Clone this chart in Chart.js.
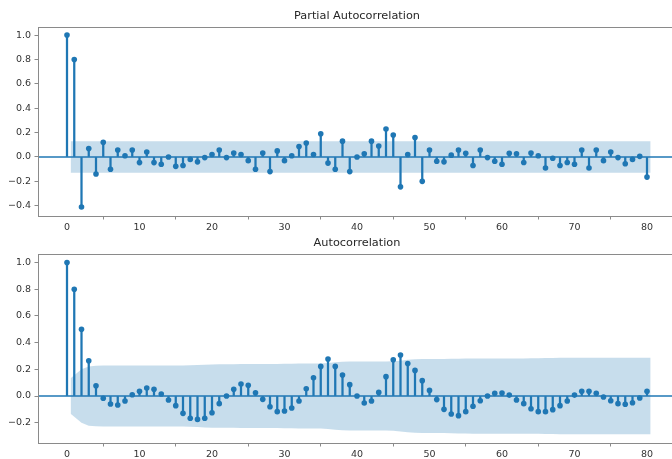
<!DOCTYPE html>
<html>
<head>
<meta charset="utf-8">
<script src="https://cdn.jsdelivr.net/npm/chart.js@4/dist/chart.umd.min.js"></script>
<style>
  html, body { margin: 0; padding: 0; background: #ffffff; overflow: hidden; width: 672px; height: 459px; }
  canvas { position: absolute; left: 0; }
  #pacfCanvas { top: 0; }
  #acfCanvas { top: 227px; }
</style>
</head>
<body>
<canvas id="pacfCanvas" width="700" height="236"></canvas>
<canvas id="acfCanvas" width="700" height="236"></canvas>
<script>
// Partial autocorrelation, lags 0..80
const pacfValues = [
  1.0, 0.80, -0.41, 0.07, -0.14, 0.12, -0.10, 0.057, 0.01, 0.057,
  -0.046, 0.04, -0.046, -0.06, 0.0, -0.077, -0.07, -0.02, -0.04, -0.005,
  0.02, 0.057, -0.005, 0.033, 0.02, -0.03, -0.10, 0.033, -0.12, 0.05,
  -0.03, 0.01, 0.085, 0.115, 0.02, 0.19, -0.05, -0.10, 0.13, -0.12,
  0.0, 0.027, 0.13, 0.09, 0.23, 0.18, -0.245, 0.02, 0.16, -0.20,
  0.057, -0.035, -0.04, 0.015, 0.057, 0.03, -0.07, 0.057, -0.005, -0.035,
  -0.06, 0.03, 0.027, -0.045, 0.033, 0.01, -0.09, -0.01, -0.07, -0.045,
  -0.06, 0.057, -0.09, 0.057, -0.03, 0.04, -0.005, -0.055, -0.02, 0.005,
  -0.165
];
// 95% band half-width for the PACF (same at every lag 1..80)
const pacfBand = 0.13;

// Autocorrelation, lags 0..80
const acfValues = [
  1.0, 0.80, 0.50, 0.264, 0.077, -0.017, -0.06, -0.067, -0.037, 0.01,
  0.035, 0.06, 0.05, 0.015, -0.03, -0.072, -0.13, -0.167, -0.175, -0.167,
  -0.125, -0.057, 0.0, 0.05, 0.09, 0.08, 0.025, -0.025, -0.08, -0.117,
  -0.112, -0.09, -0.037, 0.055, 0.137, 0.222, 0.277, 0.222, 0.157, 0.085,
  0.0, -0.052, -0.037, 0.027, 0.145, 0.272, 0.307, 0.244, 0.192, 0.115,
  0.042, -0.027, -0.10, -0.135, -0.147, -0.117, -0.077, -0.035, 0.0, 0.02,
  0.022, 0.007, -0.03, -0.057, -0.095, -0.117, -0.117, -0.102, -0.072, -0.037,
  0.007, 0.035, 0.035, 0.02, -0.007, -0.035, -0.057, -0.062, -0.05, -0.015,
  0.035
];
// 95% band half-width for the ACF, lags 1..80 (Bartlett)
const acfBand = [
  0.133, 0.201, 0.222, 0.227, 0.228, 0.228, 0.228, 0.228, 0.228, 0.228,
  0.228, 0.229, 0.229, 0.229, 0.229, 0.229, 0.231, 0.233, 0.235, 0.237,
  0.238, 0.238, 0.238, 0.239, 0.239, 0.240, 0.240, 0.240, 0.240, 0.241,
  0.242, 0.243, 0.243, 0.243, 0.244, 0.248, 0.253, 0.256, 0.258, 0.258,
  0.258, 0.259, 0.259, 0.259, 0.260, 0.265, 0.271, 0.275, 0.277, 0.278,
  0.278, 0.278, 0.279, 0.280, 0.281, 0.282, 0.282, 0.282, 0.282, 0.282,
  0.282, 0.282, 0.282, 0.283, 0.283, 0.284, 0.285, 0.286, 0.286, 0.286,
  0.286, 0.286, 0.286, 0.286, 0.287, 0.287, 0.287, 0.287, 0.287, 0.287
];

const xTicks = [0, 10, 20, 30, 40, 50, 60, 70, 80];
const pacfYTicks = [-0.4, -0.2, 0.0, 0.2, 0.4, 0.6, 0.8, 1.0];
const acfYTicks = [-0.2, 0.0, 0.2, 0.4, 0.6, 0.8, 1.0];

const BLUE = '#1f77b4';
const BAND = 'rgba(31,119,180,0.25)';
const AXIS = '#8a8a8a';
const TEXT = '#333333';
const FONT = '"DejaVu Sans", Verdana, sans-serif';

function fmtY(v) {
  const s = Math.abs(v).toFixed(1);
  return v < -1e-9 ? '\u2212' + s : s;
}

// Frame around the axes and the panel title
const framePlugin = {
  id: 'frame',
  afterDatasetsDraw(chart, args, opts) {
    const a = chart.chartArea;
    const ctx = chart.ctx;
    ctx.save();
    ctx.strokeStyle = AXIS;
    ctx.lineWidth = 1;
    ctx.strokeRect(Math.round(a.left) + 0.5, Math.round(a.top) + 0.5,
                   Math.round(a.right - a.left), Math.round(a.bottom - a.top));
    ctx.restore();
  },
  afterDraw(chart, args, opts) {
    const a = chart.chartArea;
    const ctx = chart.ctx;
    ctx.save();
    ctx.fillStyle = '#262626';
    ctx.font = '11.3px ' + FONT;
    ctx.textAlign = 'center';
    ctx.textBaseline = 'middle';
    ctx.fillText(opts.text, (a.left + a.right) / 2, 16);
    ctx.restore();
  }
};

function makeChart(canvasId, title, values, bandUpper, bandLower, yMin, yMax, yTicks) {
  const stems = values.map((v, i) => ({ x: i, y: [0, v] }));
  const points = values.map((v, i) => ({ x: i, y: v }));
  return new Chart(document.getElementById(canvasId), {
    type: 'scatter',
    data: {
      datasets: [
        {
          type: 'line', data: bandUpper, borderWidth: 0, pointRadius: 0,
          borderColor: 'rgba(0,0,0,0)', fill: false, order: 5
        },
        {
          type: 'line', data: bandLower, borderWidth: 0, pointRadius: 0,
          borderColor: 'rgba(0,0,0,0)', backgroundColor: BAND, fill: '-1', order: 4
        },
        {
          type: 'line', data: [{ x: -4, y: 0 }, { x: 84, y: 0 }],
          borderColor: BLUE, borderWidth: 1.5, pointRadius: 0, fill: false, order: 3
        },
        {
          type: 'bar', data: stems, backgroundColor: BLUE, borderWidth: 0,
          barThickness: 1.6, grouped: false, order: 2
        },
        {
          type: 'scatter', data: points, backgroundColor: BLUE, borderWidth: 0,
          pointRadius: 2.8, order: 1
        }
      ]
    },
    options: {
      responsive: false,
      animation: false,
      events: [],
      devicePixelRatio: 1,
      layout: { padding: { top: 27, right: 24, left: 0, bottom: 0 } },
      plugins: {
        legend: { display: false },
        tooltip: { enabled: false },
        title: { display: false },
        frame: { text: title }
      },
      scales: {
        x: {
          type: 'linear', min: -4, max: 84, offset: false,
          afterBuildTicks: s => { s.ticks = xTicks.map(v => ({ value: v })); },
          afterFit: s => { s.height = 20; },
          grid: { display: true, drawOnChartArea: false, drawTicks: true, tickLength: 3.5, tickColor: AXIS, tickWidth: 1 },
          border: { display: false },
          ticks: { color: TEXT, font: { family: FONT, size: 9.5 }, padding: 2, maxRotation: 0, autoSkip: false,
                   callback: v => String(v) }
        },
        y: {
          type: 'linear', min: yMin, max: yMax,
          afterBuildTicks: s => { s.ticks = yTicks.map(v => ({ value: v })); },
          afterFit: s => { s.width = 38; },
          grid: { display: true, drawOnChartArea: false, drawTicks: true, tickLength: 3.5, tickColor: AXIS, tickWidth: 1 },
          border: { display: false },
          ticks: { color: TEXT, font: { family: FONT, size: 9.5 }, padding: 3.5, autoSkip: false,
                   callback: v => fmtY(v) }
        }
      }
    },
    plugins: [framePlugin]
  });
}

// Band edges: first lag drawn from 0.5, last lag to 80.5
function bandX(i, n) {
  const lag = i + 1;
  if (i === 0) return lag - 0.5;
  if (i === n - 1) return lag + 0.5;
  return lag;
}

const pacfUpper = [{ x: 0.5, y: pacfBand }, { x: 80.5, y: pacfBand }];
const pacfLower = [{ x: 0.5, y: -pacfBand }, { x: 80.5, y: -pacfBand }];
const acfUpper = acfBand.map((b, i) => ({ x: bandX(i, acfBand.length), y: b }));
const acfLower = acfBand.map((b, i) => ({ x: bandX(i, acfBand.length), y: -b }));

makeChart('pacfCanvas', 'Partial Autocorrelation', pacfValues, pacfUpper, pacfLower, -0.484, 1.066, pacfYTicks);
makeChart('acfCanvas', 'Autocorrelation', acfValues, acfUpper, acfLower, -0.352, 1.064, acfYTicks);
</script>
</body>
</html>
